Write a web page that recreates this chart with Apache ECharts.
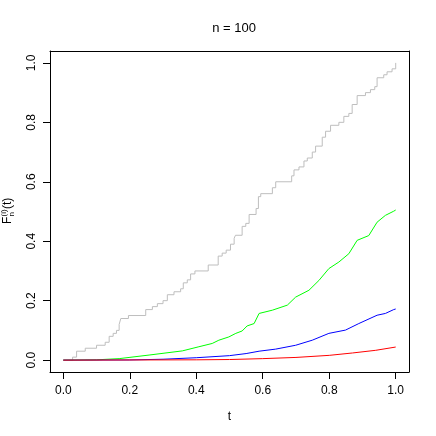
<!DOCTYPE html>
<html>
<head>
<meta charset="utf-8">
<script src="https://cdn.jsdelivr.net/npm/echarts@6/dist/echarts.min.js"></script>
<style>
html, body { margin: 0; padding: 0; background: #fff; }
#main { width: 436px; height: 436px; }
</style>
</head>
<body>
<div id="main"></div>
<script>
// tick labels
var tickVals = [0, 0.2, 0.4, 0.6, 0.8, 1.0];

// gray curve: jump positions t and level after the jump
var grayT = [0, 0.028, 0.04, 0.066, 0.1, 0.126, 0.138, 0.15, 0.16, 0.168, 0.173, 0.196, 0.248, 0.268, 0.283, 0.3, 0.313, 0.333, 0.353, 0.361, 0.373, 0.383, 0.396, 0.436, 0.466, 0.478, 0.49, 0.503, 0.514, 0.518, 0.538, 0.549, 0.559, 0.58, 0.587, 0.594, 0.629, 0.639, 0.687, 0.694, 0.709, 0.724, 0.734, 0.749, 0.759, 0.779, 0.789, 0.804, 0.829, 0.844, 0.859, 0.869, 0.884, 0.909, 0.924, 0.937, 0.944, 0.964, 0.974, 0.989, 1.0];
var grayV = [0, 0.01, 0.03, 0.04, 0.05, 0.06, 0.08, 0.09, 0.1, 0.12, 0.14, 0.15, 0.17, 0.18, 0.19, 0.2, 0.22, 0.23, 0.24, 0.26, 0.27, 0.29, 0.3, 0.32, 0.35, 0.36, 0.37, 0.39, 0.41, 0.42, 0.45, 0.46, 0.49, 0.51, 0.55, 0.56, 0.58, 0.6, 0.62, 0.64, 0.65, 0.67, 0.68, 0.7, 0.72, 0.75, 0.77, 0.79, 0.8, 0.82, 0.83, 0.86, 0.89, 0.9, 0.91, 0.92, 0.95, 0.96, 0.97, 0.98, 1.0];

var greenT = [0, 0.1, 0.168, 0.258, 0.358, 0.408, 0.448, 0.468, 0.498, 0.519, 0.538, 0.553, 0.574, 0.589, 0.629, 0.674, 0.699, 0.739, 0.769, 0.799, 0.829, 0.859, 0.884, 0.919, 0.944, 0.969, 0.994, 1.0];
var greenV = [0, 0.001, 0.005, 0.017, 0.031, 0.045, 0.056, 0.067, 0.078, 0.09, 0.098, 0.115, 0.123, 0.157, 0.168, 0.185, 0.212, 0.235, 0.268, 0.308, 0.33, 0.358, 0.403, 0.419, 0.464, 0.487, 0.501, 0.505];

var blueT = [0, 0.2, 0.3, 0.4, 0.5, 0.55, 0.589, 0.639, 0.699, 0.749, 0.799, 0.849, 0.889, 0.944, 0.969, 0.994, 1.0];
var blueV = [0, 0.0005, 0.003, 0.008, 0.015, 0.022, 0.03, 0.037, 0.05, 0.067, 0.09, 0.101, 0.123, 0.151, 0.157, 0.17, 0.172];

var redT = [0, 0.4, 0.5, 0.6, 0.7, 0.8, 0.87, 0.94, 1.0];
var redV = [0, 0.001, 0.002, 0.005, 0.009, 0.016, 0.024, 0.033, 0.044];

function zip(a, b) {
	var out = [];
	for(var i = 0; i < a.length; i++) {
		out.push([a[i], b[i]]);
	}
	return out;
}

function lineSeries(t, v, color, step) {
	return {
		type: 'line',
		xAxisIndex: 0,
		yAxisIndex: 0,
		data: zip(t, v),
		step: step,
		showSymbol: false,
		symbol: 'none',
		lineStyle: { color: color, width: 1 },
		silent: true
	};
}

var font = 'Liberation Sans, Arial, sans-serif';
var myChart = echarts.init(document.getElementById('main'));

// R-like: data range padded by 4% on each side
var pad = 0.04;
var tickLen = 7;
var boxL = 50, boxR = 27, boxT = 51, boxB = 64;
var boxW = 436 - boxL - boxR, boxH = 436 - boxT - boxB;
var pxX = boxW / (1 + 2 * pad), pxY = boxH / (1 + 2 * pad);

// one side of the plot box, drawn as a bare axis line
function boxSide(grid, position) {
	return {
		type: 'value', gridIndex: grid, position: position,
		min: -pad, max: 1 + pad,
		axisLine: { show: true, onZero: false, lineStyle: { color: '#000', width: 1 } },
		axisTick: { show: false },
		axisLabel: { show: false },
		splitLine: { show: false }
	};
}

var labelFmt = function(v) { return v.toFixed(1); };

var option = {
	animation: false,
	title: {
		text: 'n = 100',
		left: 229,
		top: 17,
		textAlign: 'center',
		textStyle: { fontFamily: font, fontSize: 13, fontWeight: 'normal', color: '#000' }
	},
	grid: [{
		left: boxL, right: boxR, top: boxT, bottom: boxB
	}, {
		// grid spanning exactly 0..1, used for ticks and labels at 0, 0.2, ... 1
		left: boxL + pad * pxX, right: boxR + pad * pxX,
		top: boxT + pad * pxY, bottom: boxB + pad * pxY
	}],
	xAxis: [boxSide(0, 'bottom'), boxSide(0, 'top'), {
		type: 'value', gridIndex: 1, position: 'bottom',
		min: 0, max: 1, interval: 0.2,
		offset: pad * pxY,
		name: 't',
		nameLocation: 'middle',
		nameGap: 39,
		nameTextStyle: { fontFamily: font, fontSize: 12, color: '#000' },
		axisLine: { show: false, onZero: false },
		splitLine: { show: false },
		axisTick: { show: true, length: tickLen, lineStyle: { color: '#000', width: 1 } },
		axisLabel: {
			margin: 13, showMinLabel: true, showMaxLabel: true,
			fontFamily: font, fontSize: 12, color: '#000',
			formatter: labelFmt
		}
	}],
	yAxis: [boxSide(0, 'left'), boxSide(0, 'right'), {
		type: 'value', gridIndex: 1, position: 'left',
		min: 0, max: 1, interval: 0.2,
		offset: pad * pxX,
		axisLine: { show: false, onZero: false },
		splitLine: { show: false },
		axisTick: { show: true, length: tickLen, lineStyle: { color: '#000', width: 1 } },
		axisLabel: {
			margin: 12, rotate: 90, showMinLabel: true, showMaxLabel: true,
			fontFamily: font, fontSize: 12, color: '#000',
			formatter: labelFmt
		}
	}],
	graphic: [{
		type: 'group',
		x: 8, y: 211,
		rotation: Math.PI / 2,
		children: [
			{ type: 'text', x: -13, y: 0, style: { text: 'F', font: '12px ' + font, fill: '#000', textAlign: 'left', textVerticalAlign: 'middle' } },
			{ type: 'text', x: -5.5, y: -4, style: { text: '(i)', font: '8px ' + font, fill: '#000', textAlign: 'left', textVerticalAlign: 'middle' } },
			{ type: 'text', x: -5.5, y: 4, style: { text: 'n', font: '8px ' + font, fill: '#000', textAlign: 'left', textVerticalAlign: 'middle' } },
			{ type: 'text', x: 2, y: 0, style: { text: '(t)', font: '12px ' + font, fill: '#000', textAlign: 'left', textVerticalAlign: 'middle' } }
		]
	}],
	series: [
		lineSeries(grayT, grayV, '#bebebe', 'end'),
		lineSeries(greenT, greenV, '#00ff00', false),
		lineSeries(blueT, blueV, '#0000ff', false),
		lineSeries(redT, redV, '#ff0000', false)
	]
};
myChart.setOption(option);
</script>
</body>
</html>
